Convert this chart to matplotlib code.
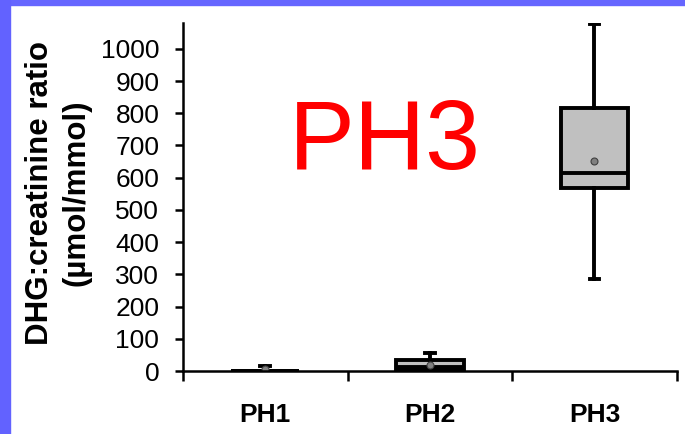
import matplotlib
matplotlib.use("Agg")
import matplotlib.pyplot as plt
from matplotlib.patches import Rectangle

plt.rcParams['font.family'] = ['Liberation Sans', 'DejaVu Sans']

# Box-plot values (umol/mmol)
groups = ['PH1', 'PH2', 'PH3']
whisker_lo = [0, 0, 286]
q1 = [0, 2, 568]
median = [0, 14, 615]
q3 = [0, 33, 817]
whisker_hi = [15, 55, 1078]
mean = [7, 19, 652]

y_ticks = [0, 100, 200, 300, 400, 500, 600, 700, 800, 900, 1000]

stats = []
for i in range(len(groups)):
    stats.append({
        'label': groups[i],
        'whislo': whisker_lo[i],
        'q1': q1[i],
        'med': median[i],
        'q3': q3[i],
        'whishi': whisker_hi[i],
        'mean': mean[i],
        'fliers': [],
    })

fig = plt.figure(figsize=(6.85, 4.34), dpi=100)
ax = fig.add_axes([0.267, 0.145, 0.721, 0.802])

positions = [0.5, 1.5, 2.5]
lw = 2.8
ax.bxp(stats, positions=positions, widths=0.41, patch_artist=True, showmeans=True,
       boxprops=dict(facecolor='#c0c0c0', edgecolor='black', linewidth=lw),
       medianprops=dict(color='black', linewidth=lw),
       whiskerprops=dict(color='black', linewidth=lw),
       capprops=dict(color='black', linewidth=lw),
       meanprops=dict(marker='o', markerfacecolor='#808080', markeredgecolor='#404040',
                      markersize=5, markeredgewidth=0.8),
       capwidths=0.06, zorder=3)

ax.set_xlim(0, 3)
ax.set_ylim(0, 1080)
ax.set_yticks(y_ticks)
ax.set_xticks(positions)
ax.set_xticklabels(groups, fontsize=19, fontweight='bold')
ax.set_xticks([0, 1, 2, 3], minor=True)
ax.tick_params(axis='x', which='major', length=0, pad=23)
ax.tick_params(axis='x', which='minor', length=7, width=1.8, direction='out')
ax.tick_params(axis='y', length=6, width=1.8, pad=11, labelsize=19)

for s in ['top', 'right']:
    ax.spines[s].set_visible(False)
for s in ['left', 'bottom']:
    ax.spines[s].set_linewidth(1.8)
    ax.spines[s].set_zorder(4)

ax.set_ylabel('DHG:creatinine ratio\n(\u00b5mol/mmol)', fontsize=22.5, fontweight='bold',
              linespacing=1.3)
ax.yaxis.set_label_coords(-0.185, 0.512)

fig.text(0.562, 1 - 169 / 434, 'PH3', color='red', fontsize=71, ha='center', va='baseline')

# slide border, top and left
fig.patches.append(Rectangle((0, 1 - 5 / 434), 1, 5 / 434, transform=fig.transFigure,
                             color='#6666ff', zorder=10))
fig.patches.append(Rectangle((0, 0), 10 / 685, 1, transform=fig.transFigure,
                             color='#6262ff', zorder=10))

fig.savefig('out.png', dpi=100)
